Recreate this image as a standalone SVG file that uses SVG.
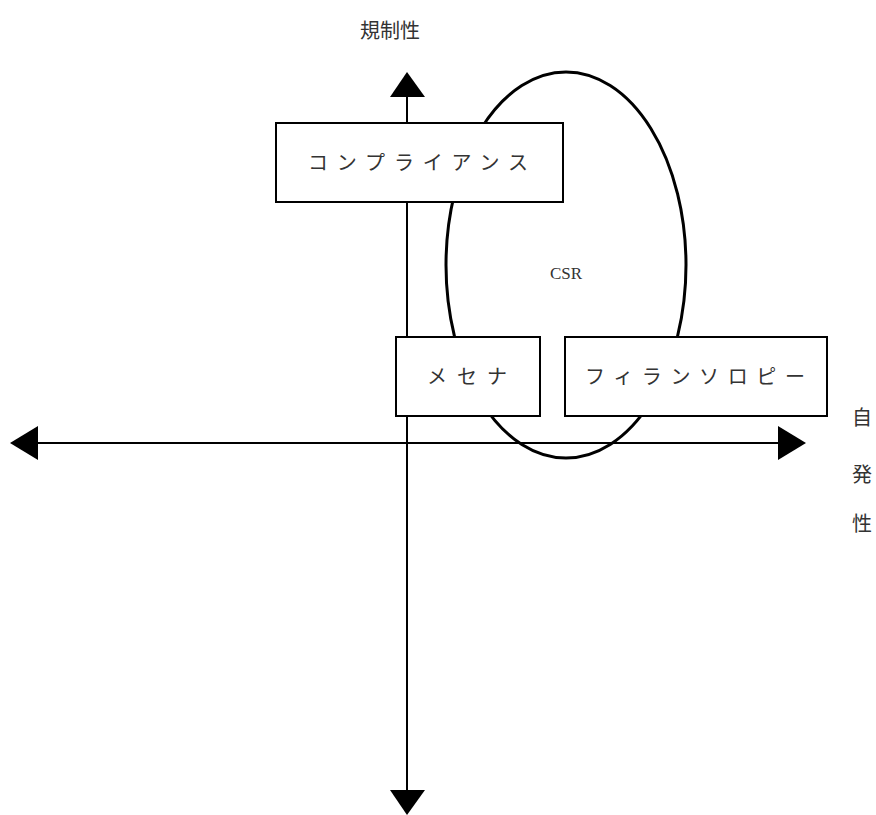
<svg xmlns="http://www.w3.org/2000/svg" width="876" height="815" viewBox="0 0 876 815">
<style>
.ax{stroke:#000;stroke-width:2;fill:none}
.box{fill:#fff;stroke:#000;stroke-width:2}
.t{font-family:"Noto Sans CJK JP","Liberation Sans",sans-serif;font-size:20px;fill:#333}
</style>
<rect width="876" height="815" fill="#fff"/>
<g id="connectors">
<line class="ax" x1="407" y1="95" x2="407" y2="792"/>
<polygon points="407,72 390,97 425,97" fill="#000"/>
<polygon points="407,815 390,790 425,790" fill="#000"/>
<line class="ax" x1="36" y1="443" x2="780" y2="443"/>
<polygon points="10,443 38,426 38,460" fill="#000"/>
<polygon points="806,443 778,426 778,460" fill="#000"/>
</g>
<g id="csr">
<ellipse cx="566" cy="265" rx="120" ry="193" fill="none" stroke="#000" stroke-width="3"/>
<text x="566" y="279" text-anchor="middle" style="font-family:'Liberation Serif',serif;font-size:17px;fill:#333">CSR</text>
</g>
<g id="compliance">
<rect class="box" x="276" y="123" width="287" height="79"/>
<text class="t" x="308" y="170" textLength="220" lengthAdjust="spacing">コンプライアンス</text>
</g>
<g id="mecenat">
<rect class="box" x="396" y="337" width="144" height="79"/>
<text class="t" x="427" y="384" textLength="80" lengthAdjust="spacing">メセナ</text>
</g>
<g id="philanthropy">
<rect class="box" x="565" y="337" width="262" height="79"/>
<text class="t" x="585" y="384" textLength="220" lengthAdjust="spacing">フィランソロピー</text>
</g>
<g id="label-regulatory">
<text class="t" x="390" y="38" text-anchor="middle">規制性</text>
</g>
<g id="label-voluntary">
<text class="t" x="862" y="425" text-anchor="middle">自</text>
<text class="t" x="862" y="482" text-anchor="middle">発</text>
<text class="t" x="862" y="531" text-anchor="middle">性</text>
</g>
</svg>
